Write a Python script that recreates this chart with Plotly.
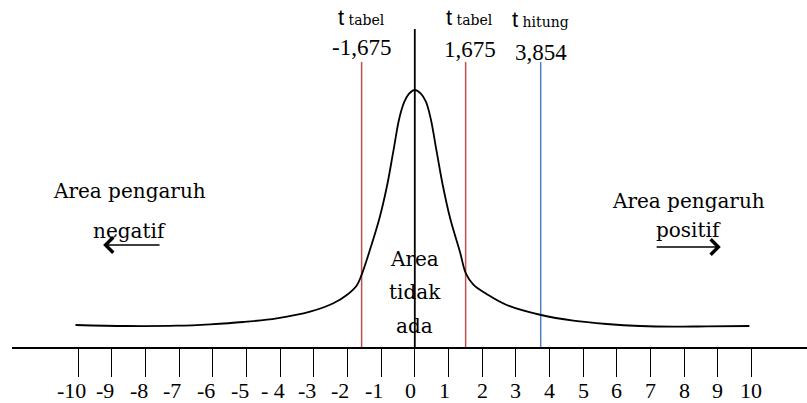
import plotly.graph_objects as go

# ---- data ----
tick_values = list(range(-10, 11))
tick_labels = ["-10", "-9", "-8", "-7", "-6", "-5", "- 4", "-3", "-2", "-1", "0",
               "1", "2", "3", "4", "5", "6", "7", "8", "9", "10"]

curve_x = [-10.08, -8.56, -7.07, -6.08, -5.10, -4.10, -3.11, -2.42, -2.02, -1.73,
           -1.59, -1.35, -1.05, -0.82, -0.64, -0.46, -0.31, -0.17, 0.00,
           0.18, 0.33, 0.47, 0.65, 0.83, 1.05, 1.34, 1.52, 1.74,
           2.14, 2.73, 3.75, 4.71, 5.70, 6.69, 7.68, 8.67, 9.94]
curve_y = [22.7, 21.7, 22.0, 23.4, 25.7, 29.4, 36.0, 44.4, 52.7, 62.0,
           72.0, 96.0, 129.4, 162.7, 196.0, 229.4, 246.0, 254.0, 257.7,
           254.0, 246.0, 229.4, 196.0, 162.7, 129.4, 96.0, 74.0, 63.0,
           53.5, 42.7, 32.7, 27.0, 23.7, 21.7, 21.0, 21.4, 21.7]

t_names = ["tabel", "tabel", "hitung"]
t_values_text = ["-1,675", "1,675", "3,854"]
t_line_x = [-1.58, 1.51, 3.74]       # where the lines are drawn in the picture
t_line_colors = ["#C0504D", "#C0504D", "#4F81BD"]
t_line_top = 285.7
center_line_top = 318.7

# ---- figure ----
W, H = 807, 403
x_range = [-11.976, 11.652]
y_range = [-55.3, 347.7]

serif = "DejaVu Serif"
numfont = "Liberation Serif"

fig = go.Figure()
fig.add_trace(go.Scatter(x=curve_x, y=curve_y, mode="lines",
                         line=dict(color="black", width=1.8, shape="spline", smoothing=1.0),
                         hoverinfo="skip", showlegend=False))

shapes = []
for xv, col in zip(t_line_x, t_line_colors):
    shapes.append(dict(type="line", xref="x", yref="y", x0=xv, x1=xv, y0=0, y1=t_line_top,
                       line=dict(color=col, width=1.5), layer="below"))
shapes.append(dict(type="line", xref="x", yref="y", x0=0, x1=0, y0=0, y1=center_line_top,
                   line=dict(color="black", width=1.8)))

ann = []
# tick labels
for v, t in zip(tick_values, tick_labels):
    ann.append(dict(x=v, y=-43.2, xref="x", yref="y", text=t, showarrow=False,
                    xshift=(-7 if t.startswith("-") else (-4 if v in (0, 1) else 0)),
                    font=dict(family=numfont, size=22, color="black")))

# t labels above the lines
name_y = [330.7, 330.7, 328.7]
val_y = [300.2, 298.7, 295.2]
name_shift = [0, 4, 0]
for xv, nm, vt, ny, vy, sh in zip(t_line_x, t_names, t_values_text, name_y, val_y, name_shift):
    ann.append(dict(x=xv, y=ny, xref="x", yref="y", xshift=sh, showarrow=False,
                    text=("<span style='font-family:Liberation Sans;font-size:22px'>t</span> "
                          f"<span style='font-family:{serif};font-size:14px'>{nm}</span>"),
                    font=dict(family=serif, size=14, color="black")))
    ann.append(dict(x=xv, y=vy, xref="x", yref="y", xshift=sh, showarrow=False, text=vt,
                    font=dict(family=numfont, size=23, color="black")))

word_font = dict(family=serif, size=20, color="black")
ann += [
    dict(x=-8.49, y=156.7, xref="x", yref="y", text="Area pengaruh", showarrow=False, font=word_font),
    dict(x=-8.49, y=116.7, xref="x", yref="y", text="negatif", showarrow=False, font=word_font),
    dict(x=8.12, y=146.7, xref="x", yref="y", text="Area pengaruh", showarrow=False, font=word_font),
    dict(x=8.12, y=117.7, xref="x", yref="y", text="positif", showarrow=False, font=word_font),
    dict(x=0, y=88.7, xref="x", yref="y", text="Area", showarrow=False, font=word_font),
    dict(x=0, y=55.7, xref="x", yref="y", text="tidak", showarrow=False, font=word_font),
    dict(x=0, y=21.7, xref="x", yref="y", text="ada", showarrow=False, font=word_font),
    # arrows
    dict(x=-9.26, y=102.7, ax=-7.54, ay=102.7, xref="x", yref="y", axref="x", ayref="y",
         text="", showarrow=True, arrowhead=4, arrowsize=2.3, arrowwidth=1.3, arrowcolor="black"),
    dict(x=9.09, y=100.7, ax=7.14, ay=100.7, xref="x", yref="y", axref="x", ayref="y",
         text="", showarrow=True, arrowhead=4, arrowsize=2.3, arrowwidth=1.3, arrowcolor="black"),
]

fig.update_layout(
    width=W, height=H, margin=dict(l=0, r=0, t=0, b=0),
    paper_bgcolor="white", plot_bgcolor="white",
    shapes=shapes, annotations=ann, showlegend=False,
    xaxis=dict(range=x_range, domain=[11.7 / W, 1], anchor="free", position=(H - 347.7) / H,
               showgrid=False, zeroline=False, showline=True, linecolor="black", linewidth=2,
               ticks="outside", ticklen=28, tickwidth=1.2, tickcolor="black",
               tickvals=tick_values, showticklabels=False, fixedrange=True),
    yaxis=dict(range=y_range, domain=[0, 1], visible=False, fixedrange=True),
)

fig.write_html("out.html", config={"displayModeBar": False},
               post_script="document.body.style.margin='0';document.body.style.overflow='hidden';")
